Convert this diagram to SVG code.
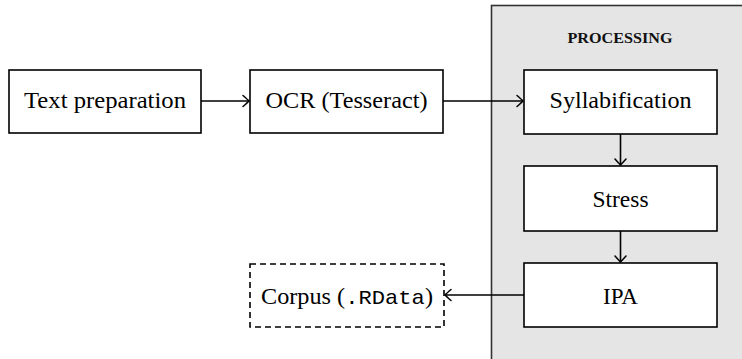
<svg xmlns="http://www.w3.org/2000/svg" width="742" height="359" viewBox="0 0 742 359">
<defs>
<style>
.box{fill:#ffffff;stroke:#000;stroke-width:1.6}
.dash{fill:#ffffff;stroke:#000;stroke-width:1.6;stroke-dasharray:6,4}
.lbl{font-family:"Liberation Serif","DejaVu Serif",serif;font-size:23px;fill:#000;text-anchor:middle}
.mono{font-family:"Liberation Mono","DejaVu Sans Mono",monospace}
.edge{fill:none;stroke:#000;stroke-width:1.6}
.title{font-family:"Liberation Serif","DejaVu Serif",serif;font-size:14.5px;font-weight:bold;fill:#111;text-anchor:middle}
</style>
<marker id="arr" markerUnits="userSpaceOnUse" markerWidth="14" markerHeight="14" refX="0" refY="0" viewBox="-8 -7 10 14" orient="auto">
<path d="M-6,-5.5 Q-1.5,-1.5 0,0 Q-1.5,1.5 -6,5.5" fill="none" stroke="#000" stroke-width="1.5" stroke-linecap="round"/>
</marker>
</defs>
<g id="processing">
<rect x="491.5" y="5.5" width="260" height="360" fill="#e5e5e5" stroke="#333" stroke-width="1.6"/>
<text class="title" x="620" y="43" textLength="105" lengthAdjust="spacingAndGlyphs">PROCESSING</text>
</g>
<g id="text-preparation">
<rect class="box" x="9" y="70" width="192" height="63"/>
<text class="lbl" x="105" y="108" textLength="162" lengthAdjust="spacingAndGlyphs">Text preparation</text>
</g>
<g id="ocr">
<rect class="box" x="250" y="70" width="193" height="63"/>
<text class="lbl" x="346.5" y="108" textLength="162" lengthAdjust="spacingAndGlyphs">OCR (Tesseract)</text>
</g>
<g id="syllabification">
<rect class="box" x="524" y="70" width="193" height="64"/>
<text class="lbl" x="620.5" y="108" textLength="142" lengthAdjust="spacingAndGlyphs">Syllabification</text>
</g>
<g id="stress">
<rect class="box" x="524" y="166" width="193" height="65"/>
<text class="lbl" x="620.5" y="207" textLength="56" lengthAdjust="spacingAndGlyphs">Stress</text>
</g>
<g id="ipa">
<rect class="box" x="524" y="263" width="193" height="64"/>
<text class="lbl" x="620.5" y="304" textLength="35" lengthAdjust="spacingAndGlyphs">IPA</text>
</g>
<g id="corpus">
<rect class="dash" x="250" y="264" width="194" height="63"/>
<text class="lbl" x="347" y="304" textLength="172" lengthAdjust="spacingAndGlyphs">Corpus (<tspan class="mono" font-size="21">.RData</tspan>)</text>
</g>
<g id="connectors">
<line class="edge" x1="201" y1="101" x2="249" y2="101" marker-end="url(#arr)"/>
<line class="edge" x1="443" y1="101" x2="523" y2="101" marker-end="url(#arr)"/>
<line class="edge" x1="620.5" y1="134" x2="620.5" y2="165" marker-end="url(#arr)"/>
<line class="edge" x1="620.5" y1="231" x2="620.5" y2="262" marker-end="url(#arr)"/>
<line class="edge" x1="524" y1="295" x2="445" y2="295" marker-end="url(#arr)"/>
</g>
</svg>
